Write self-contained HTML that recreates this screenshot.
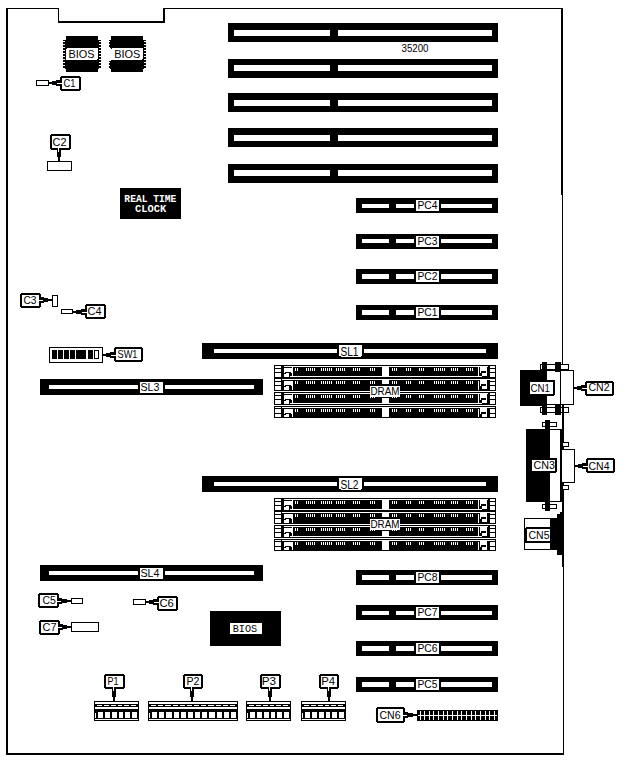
<!DOCTYPE html>
<html><head><meta charset="utf-8"><style>
html,body{margin:0;padding:0;background:#fff;}
svg{display:block;}
text{font-family:"Liberation Sans", sans-serif;}
</style></head><body>
<svg width="625" height="760" viewBox="0 0 625 760" shape-rendering="crispEdges">
<rect x="0" y="0" width="625" height="760" fill="#fff"/>
<rect x="6" y="8" width="2" height="747" fill="#000"/>
<rect x="6" y="8" width="53" height="1" fill="#000"/>
<rect x="58" y="8" width="1" height="14" fill="#000"/>
<rect x="58" y="21" width="107" height="2" fill="#000"/>
<rect x="163" y="8" width="2" height="15" fill="#000"/>
<rect x="163" y="8" width="400" height="1" fill="#000"/>
<rect x="561" y="8" width="2" height="187" fill="#000"/>
<rect x="562" y="195" width="1" height="175" fill="#000"/>
<rect x="562" y="405" width="2" height="162" fill="#000"/>
<rect x="563" y="567" width="1" height="188" fill="#000"/>
<rect x="6" y="753" width="558" height="2" fill="#000"/>
<rect x="228" y="23" width="270" height="19" fill="#000"/>
<rect x="234" y="30" width="96" height="6" fill="#fff"/>
<rect x="338" y="30" width="154" height="6" fill="#fff"/>
<rect x="228" y="59" width="270" height="19" fill="#000"/>
<rect x="234" y="65" width="96" height="6" fill="#fff"/>
<rect x="338" y="65" width="154" height="6" fill="#fff"/>
<rect x="228" y="93" width="270" height="19" fill="#000"/>
<rect x="234" y="100" width="96" height="6" fill="#fff"/>
<rect x="338" y="100" width="154" height="6" fill="#fff"/>
<rect x="228" y="128" width="270" height="19" fill="#000"/>
<rect x="234" y="135" width="96" height="6" fill="#fff"/>
<rect x="338" y="135" width="154" height="6" fill="#fff"/>
<rect x="228" y="164" width="270" height="19" fill="#000"/>
<rect x="234" y="170" width="96" height="6" fill="#fff"/>
<rect x="338" y="170" width="154" height="6" fill="#fff"/>
<text x="401.50" y="52.00" font-size="10.00" font-weight="normal" fill="#000" textLength="27.00" lengthAdjust="spacingAndGlyphs">35200</text>
<rect x="356" y="198" width="142" height="15" fill="#000"/>
<rect x="362" y="204" width="27" height="4" fill="#fff"/>
<rect x="396" y="204" width="18" height="4" fill="#fff"/>
<rect x="441" y="204" width="51" height="4" fill="#fff"/>
<rect x="416" y="200" width="23" height="11" fill="#fff"/>
<text x="417.50" y="209.00" font-size="11.43" font-weight="normal" fill="#000" textLength="20.00" lengthAdjust="spacingAndGlyphs">PC4</text>
<rect x="356" y="234" width="142" height="15" fill="#000"/>
<rect x="362" y="239" width="27" height="4" fill="#fff"/>
<rect x="396" y="239" width="18" height="4" fill="#fff"/>
<rect x="441" y="239" width="51" height="4" fill="#fff"/>
<rect x="416" y="236" width="23" height="11" fill="#fff"/>
<text x="417.50" y="245.00" font-size="11.43" font-weight="normal" fill="#000" textLength="20.00" lengthAdjust="spacingAndGlyphs">PC3</text>
<rect x="356" y="269" width="142" height="15" fill="#000"/>
<rect x="362" y="274" width="27" height="5" fill="#fff"/>
<rect x="396" y="274" width="18" height="5" fill="#fff"/>
<rect x="441" y="274" width="51" height="5" fill="#fff"/>
<rect x="416" y="271" width="23" height="11" fill="#fff"/>
<text x="417.50" y="280.00" font-size="11.43" font-weight="normal" fill="#000" textLength="20.00" lengthAdjust="spacingAndGlyphs">PC2</text>
<rect x="356" y="305" width="142" height="15" fill="#000"/>
<rect x="362" y="310" width="27" height="5" fill="#fff"/>
<rect x="396" y="310" width="18" height="5" fill="#fff"/>
<rect x="441" y="310" width="51" height="5" fill="#fff"/>
<rect x="416" y="307" width="23" height="11" fill="#fff"/>
<text x="417.50" y="316.00" font-size="11.43" font-weight="normal" fill="#000" textLength="20.00" lengthAdjust="spacingAndGlyphs">PC1</text>
<rect x="356" y="570" width="142" height="15" fill="#000"/>
<rect x="362" y="575" width="27" height="5" fill="#fff"/>
<rect x="396" y="575" width="18" height="5" fill="#fff"/>
<rect x="441" y="575" width="51" height="5" fill="#fff"/>
<rect x="416" y="572" width="23" height="11" fill="#fff"/>
<text x="417.50" y="581.00" font-size="11.43" font-weight="normal" fill="#000" textLength="20.00" lengthAdjust="spacingAndGlyphs">PC8</text>
<rect x="356" y="605" width="142" height="15" fill="#000"/>
<rect x="362" y="611" width="27" height="4" fill="#fff"/>
<rect x="396" y="611" width="18" height="4" fill="#fff"/>
<rect x="441" y="611" width="51" height="4" fill="#fff"/>
<rect x="416" y="607" width="23" height="11" fill="#fff"/>
<text x="417.50" y="616.00" font-size="11.43" font-weight="normal" fill="#000" textLength="20.00" lengthAdjust="spacingAndGlyphs">PC7</text>
<rect x="356" y="641" width="142" height="15" fill="#000"/>
<rect x="362" y="646" width="27" height="5" fill="#fff"/>
<rect x="396" y="646" width="18" height="5" fill="#fff"/>
<rect x="441" y="646" width="51" height="5" fill="#fff"/>
<rect x="416" y="643" width="23" height="11" fill="#fff"/>
<text x="417.50" y="652.00" font-size="11.43" font-weight="normal" fill="#000" textLength="20.00" lengthAdjust="spacingAndGlyphs">PC6</text>
<rect x="356" y="677" width="142" height="15" fill="#000"/>
<rect x="362" y="682" width="27" height="5" fill="#fff"/>
<rect x="396" y="682" width="18" height="5" fill="#fff"/>
<rect x="441" y="682" width="51" height="5" fill="#fff"/>
<rect x="416" y="679" width="23" height="11" fill="#fff"/>
<text x="417.50" y="688.00" font-size="11.43" font-weight="normal" fill="#000" textLength="20.00" lengthAdjust="spacingAndGlyphs">PC5</text>
<rect x="202" y="343" width="296" height="16" fill="#000"/>
<rect x="214" y="349" width="123" height="4" fill="#fff"/>
<rect x="364" y="349" width="122" height="4" fill="#fff"/>
<rect x="339" y="345" width="23" height="11.5" rx="1.5" fill="#fff"/>
<text x="340.50" y="355.65" font-size="11.90" font-weight="normal" fill="#000" textLength="18.00" lengthAdjust="spacingAndGlyphs">SL1</text>
<rect x="202" y="476" width="296" height="16" fill="#000"/>
<rect x="214" y="482" width="123" height="4" fill="#fff"/>
<rect x="364" y="482" width="122" height="4" fill="#fff"/>
<rect x="339" y="478" width="23" height="11.5" rx="1.5" fill="#fff"/>
<text x="340.50" y="488.65" font-size="11.90" font-weight="normal" fill="#000" textLength="18.00" lengthAdjust="spacingAndGlyphs">SL2</text>
<rect x="40" y="379" width="223" height="16" fill="#000"/>
<rect x="49" y="385" width="89" height="4" fill="#fff"/>
<rect x="165" y="385" width="89" height="4" fill="#fff"/>
<rect x="140" y="382" width="23" height="11" rx="1.5" fill="#fff"/>
<text x="140.50" y="391.00" font-size="11.43" font-weight="normal" fill="#000" textLength="19.00" lengthAdjust="spacingAndGlyphs">SL3</text>
<rect x="40" y="565" width="223" height="16" fill="#000"/>
<rect x="49" y="571" width="89" height="4" fill="#fff"/>
<rect x="165" y="571" width="89" height="4" fill="#fff"/>
<rect x="140" y="568" width="23" height="11" rx="1.5" fill="#fff"/>
<text x="140.50" y="577.00" font-size="11.43" font-weight="normal" fill="#000" textLength="19.00" lengthAdjust="spacingAndGlyphs">SL4</text>
<rect x="274" y="365" width="222" height="53" fill="#000"/>
<rect x="273" y="391" width="224" height="1" fill="#fff"/>
<rect x="273" y="405" width="224" height="1" fill="#fff"/>
<rect x="275" y="366" width="6" height="2" fill="#fff"/>
<rect x="490" y="366" width="5" height="2" fill="#fff"/>
<rect x="275" y="369" width="6" height="3" fill="#fff"/>
<rect x="490" y="369" width="5" height="3" fill="#fff"/>
<rect x="275" y="373" width="6" height="4" fill="#fff"/>
<rect x="490" y="373" width="5" height="4" fill="#fff"/>
<rect x="284" y="366" width="204" height="1" fill="#fff"/>
<rect x="290" y="376" width="192" height="1" fill="#fff"/>
<rect x="292" y="366" width="1" height="11" fill="#fff"/>
<rect x="478" y="366" width="1" height="11" fill="#fff"/>
<rect x="284" y="368" width="8" height="5" fill="#fff"/>
<rect x="285" y="372" width="6" height="1" fill="#000"/>
<rect x="284" y="373" width="5" height="4" fill="#fff"/>
<rect x="284" y="373" width="2" height="1" fill="#000"/>
<rect x="480" y="367" width="7" height="6" fill="#fff"/>
<rect x="481" y="371" width="5" height="2" fill="#000"/>
<rect x="482" y="373" width="5" height="3" fill="#fff"/>
<rect x="295" y="368" width="1" height="3" fill="#fff"/>
<rect x="297" y="368" width="1" height="3" fill="#fff"/>
<rect x="306" y="368" width="1" height="3" fill="#fff"/>
<rect x="308" y="368" width="1" height="3" fill="#fff"/>
<rect x="310" y="368" width="1" height="3" fill="#fff"/>
<rect x="312" y="368" width="1" height="3" fill="#fff"/>
<rect x="314" y="368" width="1" height="3" fill="#fff"/>
<rect x="321" y="368" width="1" height="3" fill="#fff"/>
<rect x="323" y="368" width="1" height="3" fill="#fff"/>
<rect x="325" y="368" width="1" height="3" fill="#fff"/>
<rect x="327" y="368" width="1" height="3" fill="#fff"/>
<rect x="329" y="368" width="1" height="3" fill="#fff"/>
<rect x="331" y="368" width="1" height="3" fill="#fff"/>
<rect x="336" y="368" width="1" height="3" fill="#fff"/>
<rect x="338" y="368" width="1" height="3" fill="#fff"/>
<rect x="340" y="368" width="1" height="3" fill="#fff"/>
<rect x="342" y="368" width="1" height="3" fill="#fff"/>
<rect x="344" y="368" width="1" height="3" fill="#fff"/>
<rect x="353" y="368" width="1" height="3" fill="#fff"/>
<rect x="355" y="368" width="1" height="3" fill="#fff"/>
<rect x="357" y="368" width="1" height="3" fill="#fff"/>
<rect x="359" y="368" width="1" height="3" fill="#fff"/>
<rect x="370" y="368" width="1" height="3" fill="#fff"/>
<rect x="372" y="368" width="1" height="3" fill="#fff"/>
<rect x="374" y="368" width="1" height="3" fill="#fff"/>
<rect x="392" y="368" width="1" height="3" fill="#fff"/>
<rect x="394" y="368" width="1" height="3" fill="#fff"/>
<rect x="396" y="368" width="1" height="3" fill="#fff"/>
<rect x="406" y="368" width="1" height="3" fill="#fff"/>
<rect x="408" y="368" width="1" height="3" fill="#fff"/>
<rect x="410" y="368" width="1" height="3" fill="#fff"/>
<rect x="419" y="368" width="1" height="3" fill="#fff"/>
<rect x="421" y="368" width="1" height="3" fill="#fff"/>
<rect x="423" y="368" width="1" height="3" fill="#fff"/>
<rect x="434" y="368" width="1" height="3" fill="#fff"/>
<rect x="436" y="368" width="1" height="3" fill="#fff"/>
<rect x="438" y="368" width="1" height="3" fill="#fff"/>
<rect x="440" y="368" width="1" height="3" fill="#fff"/>
<rect x="442" y="368" width="1" height="3" fill="#fff"/>
<rect x="444" y="368" width="1" height="3" fill="#fff"/>
<rect x="451" y="368" width="1" height="3" fill="#fff"/>
<rect x="453" y="368" width="1" height="3" fill="#fff"/>
<rect x="455" y="368" width="1" height="3" fill="#fff"/>
<rect x="457" y="368" width="1" height="3" fill="#fff"/>
<rect x="466" y="368" width="1" height="3" fill="#fff"/>
<rect x="468" y="368" width="1" height="3" fill="#fff"/>
<rect x="470" y="368" width="1" height="3" fill="#fff"/>
<rect x="472" y="368" width="1" height="3" fill="#fff"/>
<rect x="275" y="379" width="6" height="2" fill="#fff"/>
<rect x="490" y="379" width="5" height="2" fill="#fff"/>
<rect x="275" y="382" width="6" height="3" fill="#fff"/>
<rect x="490" y="382" width="5" height="3" fill="#fff"/>
<rect x="275" y="386" width="6" height="4" fill="#fff"/>
<rect x="490" y="386" width="5" height="4" fill="#fff"/>
<rect x="282" y="379" width="208" height="1" fill="#fff"/>
<rect x="292" y="381" width="1" height="9" fill="#fff"/>
<rect x="478" y="381" width="1" height="9" fill="#fff"/>
<rect x="284" y="381" width="8" height="5" fill="#fff"/>
<rect x="285" y="385" width="6" height="1" fill="#000"/>
<rect x="284" y="386" width="5" height="4" fill="#fff"/>
<rect x="284" y="386" width="2" height="1" fill="#000"/>
<rect x="480" y="380" width="7" height="6" fill="#fff"/>
<rect x="481" y="384" width="5" height="2" fill="#000"/>
<rect x="482" y="386" width="5" height="3" fill="#fff"/>
<rect x="295" y="381" width="1" height="3" fill="#fff"/>
<rect x="297" y="381" width="1" height="3" fill="#fff"/>
<rect x="306" y="381" width="1" height="3" fill="#fff"/>
<rect x="308" y="381" width="1" height="3" fill="#fff"/>
<rect x="310" y="381" width="1" height="3" fill="#fff"/>
<rect x="312" y="381" width="1" height="3" fill="#fff"/>
<rect x="314" y="381" width="1" height="3" fill="#fff"/>
<rect x="321" y="381" width="1" height="3" fill="#fff"/>
<rect x="323" y="381" width="1" height="3" fill="#fff"/>
<rect x="325" y="381" width="1" height="3" fill="#fff"/>
<rect x="327" y="381" width="1" height="3" fill="#fff"/>
<rect x="329" y="381" width="1" height="3" fill="#fff"/>
<rect x="331" y="381" width="1" height="3" fill="#fff"/>
<rect x="336" y="381" width="1" height="3" fill="#fff"/>
<rect x="338" y="381" width="1" height="3" fill="#fff"/>
<rect x="340" y="381" width="1" height="3" fill="#fff"/>
<rect x="342" y="381" width="1" height="3" fill="#fff"/>
<rect x="344" y="381" width="1" height="3" fill="#fff"/>
<rect x="353" y="381" width="1" height="3" fill="#fff"/>
<rect x="355" y="381" width="1" height="3" fill="#fff"/>
<rect x="357" y="381" width="1" height="3" fill="#fff"/>
<rect x="359" y="381" width="1" height="3" fill="#fff"/>
<rect x="370" y="381" width="1" height="3" fill="#fff"/>
<rect x="372" y="381" width="1" height="3" fill="#fff"/>
<rect x="374" y="381" width="1" height="3" fill="#fff"/>
<rect x="392" y="381" width="1" height="3" fill="#fff"/>
<rect x="394" y="381" width="1" height="3" fill="#fff"/>
<rect x="396" y="381" width="1" height="3" fill="#fff"/>
<rect x="406" y="381" width="1" height="3" fill="#fff"/>
<rect x="408" y="381" width="1" height="3" fill="#fff"/>
<rect x="410" y="381" width="1" height="3" fill="#fff"/>
<rect x="419" y="381" width="1" height="3" fill="#fff"/>
<rect x="421" y="381" width="1" height="3" fill="#fff"/>
<rect x="423" y="381" width="1" height="3" fill="#fff"/>
<rect x="434" y="381" width="1" height="3" fill="#fff"/>
<rect x="436" y="381" width="1" height="3" fill="#fff"/>
<rect x="438" y="381" width="1" height="3" fill="#fff"/>
<rect x="440" y="381" width="1" height="3" fill="#fff"/>
<rect x="442" y="381" width="1" height="3" fill="#fff"/>
<rect x="444" y="381" width="1" height="3" fill="#fff"/>
<rect x="451" y="381" width="1" height="3" fill="#fff"/>
<rect x="453" y="381" width="1" height="3" fill="#fff"/>
<rect x="455" y="381" width="1" height="3" fill="#fff"/>
<rect x="457" y="381" width="1" height="3" fill="#fff"/>
<rect x="466" y="381" width="1" height="3" fill="#fff"/>
<rect x="468" y="381" width="1" height="3" fill="#fff"/>
<rect x="470" y="381" width="1" height="3" fill="#fff"/>
<rect x="472" y="381" width="1" height="3" fill="#fff"/>
<rect x="275" y="393" width="6" height="2" fill="#fff"/>
<rect x="490" y="393" width="5" height="2" fill="#fff"/>
<rect x="275" y="396" width="6" height="3" fill="#fff"/>
<rect x="490" y="396" width="5" height="3" fill="#fff"/>
<rect x="275" y="400" width="6" height="4" fill="#fff"/>
<rect x="490" y="400" width="5" height="4" fill="#fff"/>
<rect x="284" y="393" width="204" height="1" fill="#fff"/>
<rect x="290" y="403" width="192" height="1" fill="#fff"/>
<rect x="292" y="393" width="1" height="11" fill="#fff"/>
<rect x="478" y="393" width="1" height="11" fill="#fff"/>
<rect x="284" y="395" width="8" height="5" fill="#fff"/>
<rect x="285" y="399" width="6" height="1" fill="#000"/>
<rect x="284" y="400" width="5" height="4" fill="#fff"/>
<rect x="284" y="400" width="2" height="1" fill="#000"/>
<rect x="480" y="394" width="7" height="6" fill="#fff"/>
<rect x="481" y="398" width="5" height="2" fill="#000"/>
<rect x="482" y="400" width="5" height="3" fill="#fff"/>
<rect x="295" y="395" width="1" height="3" fill="#fff"/>
<rect x="297" y="395" width="1" height="3" fill="#fff"/>
<rect x="306" y="395" width="1" height="3" fill="#fff"/>
<rect x="308" y="395" width="1" height="3" fill="#fff"/>
<rect x="310" y="395" width="1" height="3" fill="#fff"/>
<rect x="312" y="395" width="1" height="3" fill="#fff"/>
<rect x="314" y="395" width="1" height="3" fill="#fff"/>
<rect x="321" y="395" width="1" height="3" fill="#fff"/>
<rect x="323" y="395" width="1" height="3" fill="#fff"/>
<rect x="325" y="395" width="1" height="3" fill="#fff"/>
<rect x="327" y="395" width="1" height="3" fill="#fff"/>
<rect x="329" y="395" width="1" height="3" fill="#fff"/>
<rect x="331" y="395" width="1" height="3" fill="#fff"/>
<rect x="336" y="395" width="1" height="3" fill="#fff"/>
<rect x="338" y="395" width="1" height="3" fill="#fff"/>
<rect x="340" y="395" width="1" height="3" fill="#fff"/>
<rect x="342" y="395" width="1" height="3" fill="#fff"/>
<rect x="344" y="395" width="1" height="3" fill="#fff"/>
<rect x="353" y="395" width="1" height="3" fill="#fff"/>
<rect x="355" y="395" width="1" height="3" fill="#fff"/>
<rect x="357" y="395" width="1" height="3" fill="#fff"/>
<rect x="359" y="395" width="1" height="3" fill="#fff"/>
<rect x="370" y="395" width="1" height="3" fill="#fff"/>
<rect x="372" y="395" width="1" height="3" fill="#fff"/>
<rect x="374" y="395" width="1" height="3" fill="#fff"/>
<rect x="392" y="395" width="1" height="3" fill="#fff"/>
<rect x="394" y="395" width="1" height="3" fill="#fff"/>
<rect x="396" y="395" width="1" height="3" fill="#fff"/>
<rect x="406" y="395" width="1" height="3" fill="#fff"/>
<rect x="408" y="395" width="1" height="3" fill="#fff"/>
<rect x="410" y="395" width="1" height="3" fill="#fff"/>
<rect x="419" y="395" width="1" height="3" fill="#fff"/>
<rect x="421" y="395" width="1" height="3" fill="#fff"/>
<rect x="423" y="395" width="1" height="3" fill="#fff"/>
<rect x="434" y="395" width="1" height="3" fill="#fff"/>
<rect x="436" y="395" width="1" height="3" fill="#fff"/>
<rect x="438" y="395" width="1" height="3" fill="#fff"/>
<rect x="440" y="395" width="1" height="3" fill="#fff"/>
<rect x="442" y="395" width="1" height="3" fill="#fff"/>
<rect x="444" y="395" width="1" height="3" fill="#fff"/>
<rect x="451" y="395" width="1" height="3" fill="#fff"/>
<rect x="453" y="395" width="1" height="3" fill="#fff"/>
<rect x="455" y="395" width="1" height="3" fill="#fff"/>
<rect x="457" y="395" width="1" height="3" fill="#fff"/>
<rect x="466" y="395" width="1" height="3" fill="#fff"/>
<rect x="468" y="395" width="1" height="3" fill="#fff"/>
<rect x="470" y="395" width="1" height="3" fill="#fff"/>
<rect x="472" y="395" width="1" height="3" fill="#fff"/>
<rect x="275" y="407" width="6" height="1" fill="#fff"/>
<rect x="490" y="407" width="5" height="1" fill="#fff"/>
<rect x="275" y="409" width="6" height="4" fill="#fff"/>
<rect x="490" y="409" width="5" height="4" fill="#fff"/>
<rect x="275" y="414" width="6" height="3" fill="#fff"/>
<rect x="490" y="414" width="5" height="3" fill="#fff"/>
<rect x="282" y="407" width="208" height="1" fill="#fff"/>
<rect x="292" y="409" width="1" height="9" fill="#fff"/>
<rect x="478" y="409" width="1" height="9" fill="#fff"/>
<rect x="284" y="409" width="8" height="5" fill="#fff"/>
<rect x="285" y="413" width="6" height="1" fill="#000"/>
<rect x="284" y="414" width="5" height="4" fill="#fff"/>
<rect x="284" y="414" width="2" height="1" fill="#000"/>
<rect x="480" y="408" width="7" height="6" fill="#fff"/>
<rect x="481" y="412" width="5" height="2" fill="#000"/>
<rect x="482" y="414" width="5" height="3" fill="#fff"/>
<rect x="295" y="409" width="1" height="3" fill="#fff"/>
<rect x="297" y="409" width="1" height="3" fill="#fff"/>
<rect x="306" y="409" width="1" height="3" fill="#fff"/>
<rect x="308" y="409" width="1" height="3" fill="#fff"/>
<rect x="310" y="409" width="1" height="3" fill="#fff"/>
<rect x="312" y="409" width="1" height="3" fill="#fff"/>
<rect x="314" y="409" width="1" height="3" fill="#fff"/>
<rect x="321" y="409" width="1" height="3" fill="#fff"/>
<rect x="323" y="409" width="1" height="3" fill="#fff"/>
<rect x="325" y="409" width="1" height="3" fill="#fff"/>
<rect x="327" y="409" width="1" height="3" fill="#fff"/>
<rect x="329" y="409" width="1" height="3" fill="#fff"/>
<rect x="331" y="409" width="1" height="3" fill="#fff"/>
<rect x="336" y="409" width="1" height="3" fill="#fff"/>
<rect x="338" y="409" width="1" height="3" fill="#fff"/>
<rect x="340" y="409" width="1" height="3" fill="#fff"/>
<rect x="342" y="409" width="1" height="3" fill="#fff"/>
<rect x="344" y="409" width="1" height="3" fill="#fff"/>
<rect x="353" y="409" width="1" height="3" fill="#fff"/>
<rect x="355" y="409" width="1" height="3" fill="#fff"/>
<rect x="357" y="409" width="1" height="3" fill="#fff"/>
<rect x="359" y="409" width="1" height="3" fill="#fff"/>
<rect x="370" y="409" width="1" height="3" fill="#fff"/>
<rect x="372" y="409" width="1" height="3" fill="#fff"/>
<rect x="374" y="409" width="1" height="3" fill="#fff"/>
<rect x="392" y="409" width="1" height="3" fill="#fff"/>
<rect x="394" y="409" width="1" height="3" fill="#fff"/>
<rect x="396" y="409" width="1" height="3" fill="#fff"/>
<rect x="406" y="409" width="1" height="3" fill="#fff"/>
<rect x="408" y="409" width="1" height="3" fill="#fff"/>
<rect x="410" y="409" width="1" height="3" fill="#fff"/>
<rect x="419" y="409" width="1" height="3" fill="#fff"/>
<rect x="421" y="409" width="1" height="3" fill="#fff"/>
<rect x="423" y="409" width="1" height="3" fill="#fff"/>
<rect x="434" y="409" width="1" height="3" fill="#fff"/>
<rect x="436" y="409" width="1" height="3" fill="#fff"/>
<rect x="438" y="409" width="1" height="3" fill="#fff"/>
<rect x="440" y="409" width="1" height="3" fill="#fff"/>
<rect x="442" y="409" width="1" height="3" fill="#fff"/>
<rect x="444" y="409" width="1" height="3" fill="#fff"/>
<rect x="451" y="409" width="1" height="3" fill="#fff"/>
<rect x="453" y="409" width="1" height="3" fill="#fff"/>
<rect x="455" y="409" width="1" height="3" fill="#fff"/>
<rect x="457" y="409" width="1" height="3" fill="#fff"/>
<rect x="466" y="409" width="1" height="3" fill="#fff"/>
<rect x="468" y="409" width="1" height="3" fill="#fff"/>
<rect x="470" y="409" width="1" height="3" fill="#fff"/>
<rect x="472" y="409" width="1" height="3" fill="#fff"/>
<rect x="274" y="417" width="222" height="1" fill="#000"/>
<rect x="382" y="367" width="7" height="9" fill="#fff"/>
<rect x="382" y="380" width="7" height="4" fill="#fff"/>
<rect x="382" y="398" width="7" height="5" fill="#fff"/>
<rect x="382" y="407" width="7" height="10" fill="#fff"/>
<rect x="382" y="417" width="7" height="1" fill="#000"/>
<rect x="274" y="498" width="222" height="53" fill="#000"/>
<rect x="273" y="524" width="224" height="1" fill="#fff"/>
<rect x="273" y="538" width="224" height="1" fill="#fff"/>
<rect x="275" y="499" width="6" height="2" fill="#fff"/>
<rect x="490" y="499" width="5" height="2" fill="#fff"/>
<rect x="275" y="502" width="6" height="3" fill="#fff"/>
<rect x="490" y="502" width="5" height="3" fill="#fff"/>
<rect x="275" y="506" width="6" height="4" fill="#fff"/>
<rect x="490" y="506" width="5" height="4" fill="#fff"/>
<rect x="284" y="499" width="204" height="1" fill="#fff"/>
<rect x="290" y="509" width="192" height="1" fill="#fff"/>
<rect x="292" y="499" width="1" height="11" fill="#fff"/>
<rect x="478" y="499" width="1" height="11" fill="#fff"/>
<rect x="284" y="501" width="8" height="5" fill="#fff"/>
<rect x="285" y="505" width="6" height="1" fill="#000"/>
<rect x="284" y="506" width="5" height="4" fill="#fff"/>
<rect x="284" y="506" width="2" height="1" fill="#000"/>
<rect x="480" y="500" width="7" height="6" fill="#fff"/>
<rect x="481" y="504" width="5" height="2" fill="#000"/>
<rect x="482" y="506" width="5" height="3" fill="#fff"/>
<rect x="295" y="501" width="1" height="3" fill="#fff"/>
<rect x="297" y="501" width="1" height="3" fill="#fff"/>
<rect x="306" y="501" width="1" height="3" fill="#fff"/>
<rect x="308" y="501" width="1" height="3" fill="#fff"/>
<rect x="310" y="501" width="1" height="3" fill="#fff"/>
<rect x="312" y="501" width="1" height="3" fill="#fff"/>
<rect x="314" y="501" width="1" height="3" fill="#fff"/>
<rect x="321" y="501" width="1" height="3" fill="#fff"/>
<rect x="323" y="501" width="1" height="3" fill="#fff"/>
<rect x="325" y="501" width="1" height="3" fill="#fff"/>
<rect x="327" y="501" width="1" height="3" fill="#fff"/>
<rect x="329" y="501" width="1" height="3" fill="#fff"/>
<rect x="331" y="501" width="1" height="3" fill="#fff"/>
<rect x="336" y="501" width="1" height="3" fill="#fff"/>
<rect x="338" y="501" width="1" height="3" fill="#fff"/>
<rect x="340" y="501" width="1" height="3" fill="#fff"/>
<rect x="342" y="501" width="1" height="3" fill="#fff"/>
<rect x="344" y="501" width="1" height="3" fill="#fff"/>
<rect x="353" y="501" width="1" height="3" fill="#fff"/>
<rect x="355" y="501" width="1" height="3" fill="#fff"/>
<rect x="357" y="501" width="1" height="3" fill="#fff"/>
<rect x="359" y="501" width="1" height="3" fill="#fff"/>
<rect x="370" y="501" width="1" height="3" fill="#fff"/>
<rect x="372" y="501" width="1" height="3" fill="#fff"/>
<rect x="374" y="501" width="1" height="3" fill="#fff"/>
<rect x="392" y="501" width="1" height="3" fill="#fff"/>
<rect x="394" y="501" width="1" height="3" fill="#fff"/>
<rect x="396" y="501" width="1" height="3" fill="#fff"/>
<rect x="406" y="501" width="1" height="3" fill="#fff"/>
<rect x="408" y="501" width="1" height="3" fill="#fff"/>
<rect x="410" y="501" width="1" height="3" fill="#fff"/>
<rect x="419" y="501" width="1" height="3" fill="#fff"/>
<rect x="421" y="501" width="1" height="3" fill="#fff"/>
<rect x="423" y="501" width="1" height="3" fill="#fff"/>
<rect x="434" y="501" width="1" height="3" fill="#fff"/>
<rect x="436" y="501" width="1" height="3" fill="#fff"/>
<rect x="438" y="501" width="1" height="3" fill="#fff"/>
<rect x="440" y="501" width="1" height="3" fill="#fff"/>
<rect x="442" y="501" width="1" height="3" fill="#fff"/>
<rect x="444" y="501" width="1" height="3" fill="#fff"/>
<rect x="451" y="501" width="1" height="3" fill="#fff"/>
<rect x="453" y="501" width="1" height="3" fill="#fff"/>
<rect x="455" y="501" width="1" height="3" fill="#fff"/>
<rect x="457" y="501" width="1" height="3" fill="#fff"/>
<rect x="466" y="501" width="1" height="3" fill="#fff"/>
<rect x="468" y="501" width="1" height="3" fill="#fff"/>
<rect x="470" y="501" width="1" height="3" fill="#fff"/>
<rect x="472" y="501" width="1" height="3" fill="#fff"/>
<rect x="275" y="512" width="6" height="2" fill="#fff"/>
<rect x="490" y="512" width="5" height="2" fill="#fff"/>
<rect x="275" y="515" width="6" height="3" fill="#fff"/>
<rect x="490" y="515" width="5" height="3" fill="#fff"/>
<rect x="275" y="519" width="6" height="4" fill="#fff"/>
<rect x="490" y="519" width="5" height="4" fill="#fff"/>
<rect x="282" y="512" width="208" height="1" fill="#fff"/>
<rect x="292" y="514" width="1" height="9" fill="#fff"/>
<rect x="478" y="514" width="1" height="9" fill="#fff"/>
<rect x="284" y="514" width="8" height="5" fill="#fff"/>
<rect x="285" y="518" width="6" height="1" fill="#000"/>
<rect x="284" y="519" width="5" height="4" fill="#fff"/>
<rect x="284" y="519" width="2" height="1" fill="#000"/>
<rect x="480" y="513" width="7" height="6" fill="#fff"/>
<rect x="481" y="517" width="5" height="2" fill="#000"/>
<rect x="482" y="519" width="5" height="3" fill="#fff"/>
<rect x="295" y="514" width="1" height="3" fill="#fff"/>
<rect x="297" y="514" width="1" height="3" fill="#fff"/>
<rect x="306" y="514" width="1" height="3" fill="#fff"/>
<rect x="308" y="514" width="1" height="3" fill="#fff"/>
<rect x="310" y="514" width="1" height="3" fill="#fff"/>
<rect x="312" y="514" width="1" height="3" fill="#fff"/>
<rect x="314" y="514" width="1" height="3" fill="#fff"/>
<rect x="321" y="514" width="1" height="3" fill="#fff"/>
<rect x="323" y="514" width="1" height="3" fill="#fff"/>
<rect x="325" y="514" width="1" height="3" fill="#fff"/>
<rect x="327" y="514" width="1" height="3" fill="#fff"/>
<rect x="329" y="514" width="1" height="3" fill="#fff"/>
<rect x="331" y="514" width="1" height="3" fill="#fff"/>
<rect x="336" y="514" width="1" height="3" fill="#fff"/>
<rect x="338" y="514" width="1" height="3" fill="#fff"/>
<rect x="340" y="514" width="1" height="3" fill="#fff"/>
<rect x="342" y="514" width="1" height="3" fill="#fff"/>
<rect x="344" y="514" width="1" height="3" fill="#fff"/>
<rect x="353" y="514" width="1" height="3" fill="#fff"/>
<rect x="355" y="514" width="1" height="3" fill="#fff"/>
<rect x="357" y="514" width="1" height="3" fill="#fff"/>
<rect x="359" y="514" width="1" height="3" fill="#fff"/>
<rect x="370" y="514" width="1" height="3" fill="#fff"/>
<rect x="372" y="514" width="1" height="3" fill="#fff"/>
<rect x="374" y="514" width="1" height="3" fill="#fff"/>
<rect x="392" y="514" width="1" height="3" fill="#fff"/>
<rect x="394" y="514" width="1" height="3" fill="#fff"/>
<rect x="396" y="514" width="1" height="3" fill="#fff"/>
<rect x="406" y="514" width="1" height="3" fill="#fff"/>
<rect x="408" y="514" width="1" height="3" fill="#fff"/>
<rect x="410" y="514" width="1" height="3" fill="#fff"/>
<rect x="419" y="514" width="1" height="3" fill="#fff"/>
<rect x="421" y="514" width="1" height="3" fill="#fff"/>
<rect x="423" y="514" width="1" height="3" fill="#fff"/>
<rect x="434" y="514" width="1" height="3" fill="#fff"/>
<rect x="436" y="514" width="1" height="3" fill="#fff"/>
<rect x="438" y="514" width="1" height="3" fill="#fff"/>
<rect x="440" y="514" width="1" height="3" fill="#fff"/>
<rect x="442" y="514" width="1" height="3" fill="#fff"/>
<rect x="444" y="514" width="1" height="3" fill="#fff"/>
<rect x="451" y="514" width="1" height="3" fill="#fff"/>
<rect x="453" y="514" width="1" height="3" fill="#fff"/>
<rect x="455" y="514" width="1" height="3" fill="#fff"/>
<rect x="457" y="514" width="1" height="3" fill="#fff"/>
<rect x="466" y="514" width="1" height="3" fill="#fff"/>
<rect x="468" y="514" width="1" height="3" fill="#fff"/>
<rect x="470" y="514" width="1" height="3" fill="#fff"/>
<rect x="472" y="514" width="1" height="3" fill="#fff"/>
<rect x="275" y="526" width="6" height="2" fill="#fff"/>
<rect x="490" y="526" width="5" height="2" fill="#fff"/>
<rect x="275" y="529" width="6" height="3" fill="#fff"/>
<rect x="490" y="529" width="5" height="3" fill="#fff"/>
<rect x="275" y="533" width="6" height="4" fill="#fff"/>
<rect x="490" y="533" width="5" height="4" fill="#fff"/>
<rect x="284" y="526" width="204" height="1" fill="#fff"/>
<rect x="290" y="536" width="192" height="1" fill="#fff"/>
<rect x="292" y="526" width="1" height="11" fill="#fff"/>
<rect x="478" y="526" width="1" height="11" fill="#fff"/>
<rect x="284" y="528" width="8" height="5" fill="#fff"/>
<rect x="285" y="532" width="6" height="1" fill="#000"/>
<rect x="284" y="533" width="5" height="4" fill="#fff"/>
<rect x="284" y="533" width="2" height="1" fill="#000"/>
<rect x="480" y="527" width="7" height="6" fill="#fff"/>
<rect x="481" y="531" width="5" height="2" fill="#000"/>
<rect x="482" y="533" width="5" height="3" fill="#fff"/>
<rect x="295" y="528" width="1" height="3" fill="#fff"/>
<rect x="297" y="528" width="1" height="3" fill="#fff"/>
<rect x="306" y="528" width="1" height="3" fill="#fff"/>
<rect x="308" y="528" width="1" height="3" fill="#fff"/>
<rect x="310" y="528" width="1" height="3" fill="#fff"/>
<rect x="312" y="528" width="1" height="3" fill="#fff"/>
<rect x="314" y="528" width="1" height="3" fill="#fff"/>
<rect x="321" y="528" width="1" height="3" fill="#fff"/>
<rect x="323" y="528" width="1" height="3" fill="#fff"/>
<rect x="325" y="528" width="1" height="3" fill="#fff"/>
<rect x="327" y="528" width="1" height="3" fill="#fff"/>
<rect x="329" y="528" width="1" height="3" fill="#fff"/>
<rect x="331" y="528" width="1" height="3" fill="#fff"/>
<rect x="336" y="528" width="1" height="3" fill="#fff"/>
<rect x="338" y="528" width="1" height="3" fill="#fff"/>
<rect x="340" y="528" width="1" height="3" fill="#fff"/>
<rect x="342" y="528" width="1" height="3" fill="#fff"/>
<rect x="344" y="528" width="1" height="3" fill="#fff"/>
<rect x="353" y="528" width="1" height="3" fill="#fff"/>
<rect x="355" y="528" width="1" height="3" fill="#fff"/>
<rect x="357" y="528" width="1" height="3" fill="#fff"/>
<rect x="359" y="528" width="1" height="3" fill="#fff"/>
<rect x="370" y="528" width="1" height="3" fill="#fff"/>
<rect x="372" y="528" width="1" height="3" fill="#fff"/>
<rect x="374" y="528" width="1" height="3" fill="#fff"/>
<rect x="392" y="528" width="1" height="3" fill="#fff"/>
<rect x="394" y="528" width="1" height="3" fill="#fff"/>
<rect x="396" y="528" width="1" height="3" fill="#fff"/>
<rect x="406" y="528" width="1" height="3" fill="#fff"/>
<rect x="408" y="528" width="1" height="3" fill="#fff"/>
<rect x="410" y="528" width="1" height="3" fill="#fff"/>
<rect x="419" y="528" width="1" height="3" fill="#fff"/>
<rect x="421" y="528" width="1" height="3" fill="#fff"/>
<rect x="423" y="528" width="1" height="3" fill="#fff"/>
<rect x="434" y="528" width="1" height="3" fill="#fff"/>
<rect x="436" y="528" width="1" height="3" fill="#fff"/>
<rect x="438" y="528" width="1" height="3" fill="#fff"/>
<rect x="440" y="528" width="1" height="3" fill="#fff"/>
<rect x="442" y="528" width="1" height="3" fill="#fff"/>
<rect x="444" y="528" width="1" height="3" fill="#fff"/>
<rect x="451" y="528" width="1" height="3" fill="#fff"/>
<rect x="453" y="528" width="1" height="3" fill="#fff"/>
<rect x="455" y="528" width="1" height="3" fill="#fff"/>
<rect x="457" y="528" width="1" height="3" fill="#fff"/>
<rect x="466" y="528" width="1" height="3" fill="#fff"/>
<rect x="468" y="528" width="1" height="3" fill="#fff"/>
<rect x="470" y="528" width="1" height="3" fill="#fff"/>
<rect x="472" y="528" width="1" height="3" fill="#fff"/>
<rect x="275" y="540" width="6" height="1" fill="#fff"/>
<rect x="490" y="540" width="5" height="1" fill="#fff"/>
<rect x="275" y="542" width="6" height="4" fill="#fff"/>
<rect x="490" y="542" width="5" height="4" fill="#fff"/>
<rect x="275" y="547" width="6" height="3" fill="#fff"/>
<rect x="490" y="547" width="5" height="3" fill="#fff"/>
<rect x="282" y="540" width="208" height="1" fill="#fff"/>
<rect x="292" y="542" width="1" height="9" fill="#fff"/>
<rect x="478" y="542" width="1" height="9" fill="#fff"/>
<rect x="284" y="542" width="8" height="5" fill="#fff"/>
<rect x="285" y="546" width="6" height="1" fill="#000"/>
<rect x="284" y="547" width="5" height="4" fill="#fff"/>
<rect x="284" y="547" width="2" height="1" fill="#000"/>
<rect x="480" y="541" width="7" height="6" fill="#fff"/>
<rect x="481" y="545" width="5" height="2" fill="#000"/>
<rect x="482" y="547" width="5" height="3" fill="#fff"/>
<rect x="295" y="542" width="1" height="3" fill="#fff"/>
<rect x="297" y="542" width="1" height="3" fill="#fff"/>
<rect x="306" y="542" width="1" height="3" fill="#fff"/>
<rect x="308" y="542" width="1" height="3" fill="#fff"/>
<rect x="310" y="542" width="1" height="3" fill="#fff"/>
<rect x="312" y="542" width="1" height="3" fill="#fff"/>
<rect x="314" y="542" width="1" height="3" fill="#fff"/>
<rect x="321" y="542" width="1" height="3" fill="#fff"/>
<rect x="323" y="542" width="1" height="3" fill="#fff"/>
<rect x="325" y="542" width="1" height="3" fill="#fff"/>
<rect x="327" y="542" width="1" height="3" fill="#fff"/>
<rect x="329" y="542" width="1" height="3" fill="#fff"/>
<rect x="331" y="542" width="1" height="3" fill="#fff"/>
<rect x="336" y="542" width="1" height="3" fill="#fff"/>
<rect x="338" y="542" width="1" height="3" fill="#fff"/>
<rect x="340" y="542" width="1" height="3" fill="#fff"/>
<rect x="342" y="542" width="1" height="3" fill="#fff"/>
<rect x="344" y="542" width="1" height="3" fill="#fff"/>
<rect x="353" y="542" width="1" height="3" fill="#fff"/>
<rect x="355" y="542" width="1" height="3" fill="#fff"/>
<rect x="357" y="542" width="1" height="3" fill="#fff"/>
<rect x="359" y="542" width="1" height="3" fill="#fff"/>
<rect x="370" y="542" width="1" height="3" fill="#fff"/>
<rect x="372" y="542" width="1" height="3" fill="#fff"/>
<rect x="374" y="542" width="1" height="3" fill="#fff"/>
<rect x="392" y="542" width="1" height="3" fill="#fff"/>
<rect x="394" y="542" width="1" height="3" fill="#fff"/>
<rect x="396" y="542" width="1" height="3" fill="#fff"/>
<rect x="406" y="542" width="1" height="3" fill="#fff"/>
<rect x="408" y="542" width="1" height="3" fill="#fff"/>
<rect x="410" y="542" width="1" height="3" fill="#fff"/>
<rect x="419" y="542" width="1" height="3" fill="#fff"/>
<rect x="421" y="542" width="1" height="3" fill="#fff"/>
<rect x="423" y="542" width="1" height="3" fill="#fff"/>
<rect x="434" y="542" width="1" height="3" fill="#fff"/>
<rect x="436" y="542" width="1" height="3" fill="#fff"/>
<rect x="438" y="542" width="1" height="3" fill="#fff"/>
<rect x="440" y="542" width="1" height="3" fill="#fff"/>
<rect x="442" y="542" width="1" height="3" fill="#fff"/>
<rect x="444" y="542" width="1" height="3" fill="#fff"/>
<rect x="451" y="542" width="1" height="3" fill="#fff"/>
<rect x="453" y="542" width="1" height="3" fill="#fff"/>
<rect x="455" y="542" width="1" height="3" fill="#fff"/>
<rect x="457" y="542" width="1" height="3" fill="#fff"/>
<rect x="466" y="542" width="1" height="3" fill="#fff"/>
<rect x="468" y="542" width="1" height="3" fill="#fff"/>
<rect x="470" y="542" width="1" height="3" fill="#fff"/>
<rect x="472" y="542" width="1" height="3" fill="#fff"/>
<rect x="274" y="550" width="222" height="1" fill="#000"/>
<rect x="382" y="500" width="7" height="9" fill="#fff"/>
<rect x="382" y="513" width="7" height="4" fill="#fff"/>
<rect x="382" y="531" width="7" height="5" fill="#fff"/>
<rect x="382" y="540" width="7" height="10" fill="#fff"/>
<rect x="382" y="550" width="7" height="1" fill="#000"/>
<rect x="370" y="386" width="30" height="11" fill="#fff"/>
<text x="370.50" y="395.00" font-size="11.43" font-weight="normal" fill="#000" textLength="29.00" lengthAdjust="spacingAndGlyphs">DRAM</text>
<rect x="370" y="519" width="30" height="11" fill="#fff"/>
<text x="370.50" y="528.00" font-size="11.43" font-weight="normal" fill="#000" textLength="29.00" lengthAdjust="spacingAndGlyphs">DRAM</text>
<rect x="66" y="36" width="32" height="36" fill="#000"/>
<rect x="63" y="40" width="3" height="29" fill="#000"/>
<rect x="98" y="40" width="3" height="29" fill="#000"/>
<rect x="63" y="41" width="2" height="1" fill="#fff"/>
<rect x="99" y="41" width="2" height="1" fill="#fff"/>
<rect x="63" y="44" width="2" height="1" fill="#fff"/>
<rect x="99" y="44" width="2" height="1" fill="#fff"/>
<rect x="63" y="47" width="2" height="1" fill="#fff"/>
<rect x="99" y="47" width="2" height="1" fill="#fff"/>
<rect x="63" y="50" width="2" height="1" fill="#fff"/>
<rect x="99" y="50" width="2" height="1" fill="#fff"/>
<rect x="63" y="53" width="2" height="1" fill="#fff"/>
<rect x="99" y="53" width="2" height="1" fill="#fff"/>
<rect x="63" y="56" width="2" height="1" fill="#fff"/>
<rect x="99" y="56" width="2" height="1" fill="#fff"/>
<rect x="63" y="59" width="2" height="1" fill="#fff"/>
<rect x="99" y="59" width="2" height="1" fill="#fff"/>
<rect x="63" y="62" width="2" height="1" fill="#fff"/>
<rect x="99" y="62" width="2" height="1" fill="#fff"/>
<rect x="63" y="65" width="2" height="1" fill="#fff"/>
<rect x="99" y="65" width="2" height="1" fill="#fff"/>
<rect x="63" y="68" width="2" height="1" fill="#fff"/>
<rect x="99" y="68" width="2" height="1" fill="#fff"/>
<rect x="66" y="48" width="32" height="12" rx="2" fill="#fff"/>
<text x="68.50" y="58.00" font-size="11.43" font-weight="normal" fill="#000" textLength="26.00" lengthAdjust="spacingAndGlyphs">BIOS</text>
<rect x="111" y="36" width="32" height="36" fill="#000"/>
<rect x="109" y="40" width="2" height="29" fill="#000"/>
<rect x="143" y="40" width="3" height="29" fill="#000"/>
<rect x="109" y="41" width="1" height="1" fill="#fff"/>
<rect x="144" y="41" width="2" height="1" fill="#fff"/>
<rect x="109" y="44" width="1" height="1" fill="#fff"/>
<rect x="144" y="44" width="2" height="1" fill="#fff"/>
<rect x="109" y="47" width="1" height="1" fill="#fff"/>
<rect x="144" y="47" width="2" height="1" fill="#fff"/>
<rect x="109" y="50" width="1" height="1" fill="#fff"/>
<rect x="144" y="50" width="2" height="1" fill="#fff"/>
<rect x="109" y="53" width="1" height="1" fill="#fff"/>
<rect x="144" y="53" width="2" height="1" fill="#fff"/>
<rect x="109" y="56" width="1" height="1" fill="#fff"/>
<rect x="144" y="56" width="2" height="1" fill="#fff"/>
<rect x="109" y="59" width="1" height="1" fill="#fff"/>
<rect x="144" y="59" width="2" height="1" fill="#fff"/>
<rect x="109" y="62" width="1" height="1" fill="#fff"/>
<rect x="144" y="62" width="2" height="1" fill="#fff"/>
<rect x="109" y="65" width="1" height="1" fill="#fff"/>
<rect x="144" y="65" width="2" height="1" fill="#fff"/>
<rect x="109" y="68" width="1" height="1" fill="#fff"/>
<rect x="144" y="68" width="2" height="1" fill="#fff"/>
<rect x="109" y="48" width="2" height="13" fill="#fff"/>
<rect x="111" y="48" width="32" height="12" rx="2" fill="#fff"/>
<text x="114.15" y="58.00" font-size="11.43" font-weight="normal" fill="#000" textLength="26.10" lengthAdjust="spacingAndGlyphs">BIOS</text>
<rect x="120" y="188" width="61" height="31" fill="#000"/>
<text x="124.36" y="202.00" font-size="11.60" font-weight="bold" fill="#fff" textLength="52.02" lengthAdjust="spacingAndGlyphs" style="font-family:Liberation Mono">REAL TIME</text>
<text x="135.01" y="212.32" font-size="11.60" font-weight="bold" fill="#fff" textLength="31.28" lengthAdjust="spacingAndGlyphs" style="font-family:Liberation Mono">CLOCK</text>
<rect x="210" y="611" width="71" height="35" fill="#000"/>
<rect x="230" y="623" width="32" height="11" fill="#fff"/>
<text x="232.69" y="632.26" font-size="11.20" font-weight="normal" fill="#000" textLength="24.52" lengthAdjust="spacingAndGlyphs" style="font-family:Liberation Mono">BIOS</text>
<rect x="36" y="80" width="13" height="6" fill="#000"/>
<rect x="37" y="81" width="11" height="4" fill="#fff"/>
<rect x="49" y="82" width="3" height="2" fill="#000"/>
<rect x="52" y="81" width="4" height="4" fill="#000"/>
<rect x="56" y="80" width="5" height="6" fill="#000"/>
<rect x="61" y="77" width="19" height="13" rx="1.5" ry="1.5" fill="#fff" stroke="#000" stroke-width="2"/>
<text x="63.50" y="87.00" font-size="11.43" font-weight="normal" fill="#000" textLength="12.00" lengthAdjust="spacingAndGlyphs">C1</text>
<rect x="51" y="135" width="19" height="14" rx="1.5" ry="1.5" fill="#fff" stroke="#000" stroke-width="2"/>
<text x="52.50" y="146.00" font-size="11.43" font-weight="normal" fill="#000" textLength="14.00" lengthAdjust="spacingAndGlyphs">C2</text>
<rect x="57" y="149" width="4" height="4" fill="#000"/>
<rect x="57" y="153" width="4" height="4" fill="#000"/>
<rect x="58" y="157" width="2" height="4" fill="#000"/>
<rect x="47" y="161" width="25" height="10" fill="#000"/>
<rect x="48" y="162" width="23" height="8" fill="#fff"/>
<rect x="21" y="294" width="19" height="13" rx="1.5" ry="1.5" fill="#fff" stroke="#000" stroke-width="2"/>
<text x="23.50" y="304.00" font-size="11.43" font-weight="normal" fill="#000" textLength="13.00" lengthAdjust="spacingAndGlyphs">C3</text>
<rect x="48" y="299" width="4" height="2" fill="#000"/>
<rect x="44" y="298" width="4" height="4" fill="#000"/>
<rect x="40" y="297" width="4" height="6" fill="#000"/>
<rect x="52" y="295" width="6" height="12" fill="#000"/>
<rect x="53" y="296" width="4" height="10" fill="#fff"/>
<rect x="61" y="309" width="12" height="5" fill="#000"/>
<rect x="62" y="310" width="10" height="3" fill="#fff"/>
<rect x="73" y="311" width="3" height="2" fill="#000"/>
<rect x="76" y="310" width="5" height="4" fill="#000"/>
<rect x="81" y="309" width="5" height="6" fill="#000"/>
<rect x="86" y="305" width="19" height="13" rx="1.5" ry="1.5" fill="#fff" stroke="#000" stroke-width="2"/>
<text x="87.50" y="315.00" font-size="11.43" font-weight="normal" fill="#000" textLength="14.00" lengthAdjust="spacingAndGlyphs">C4</text>
<rect x="49" y="347" width="54" height="16" fill="#000"/>
<rect x="50" y="348" width="52" height="14" fill="#fff"/>
<rect x="52" y="350" width="5" height="9" fill="#000"/>
<rect x="58" y="350" width="5" height="9" fill="#000"/>
<rect x="64" y="350" width="5" height="9" fill="#000"/>
<rect x="70" y="350" width="5" height="9" fill="#000"/>
<rect x="76" y="350" width="10" height="9" fill="#000"/>
<rect x="88" y="350" width="5" height="9" fill="#000"/>
<rect x="94" y="350" width="5" height="9" fill="#000"/>
<rect x="95" y="351" width="3" height="7" fill="#fff"/>
<rect x="103" y="354" width="3" height="2" fill="#000"/>
<rect x="106" y="353" width="4" height="4" fill="#000"/>
<rect x="110" y="352" width="5" height="6" fill="#000"/>
<rect x="115" y="348" width="27" height="13" rx="1.5" ry="1.5" fill="#fff" stroke="#000" stroke-width="2"/>
<text x="117.50" y="358.00" font-size="11.43" font-weight="normal" fill="#000" textLength="20.00" lengthAdjust="spacingAndGlyphs">SW1</text>
<rect x="39" y="594" width="19" height="13" rx="1.5" ry="1.5" fill="#fff" stroke="#000" stroke-width="2"/>
<text x="42.50" y="604.35" font-size="10.14" font-weight="normal" fill="#000" textLength="13.40" lengthAdjust="spacingAndGlyphs">C5</text>
<rect x="67" y="600" width="4" height="2" fill="#000"/>
<rect x="62" y="599" width="5" height="4" fill="#000"/>
<rect x="58" y="598" width="4" height="6" fill="#000"/>
<rect x="71" y="598" width="12" height="6" fill="#000"/>
<rect x="72" y="599" width="10" height="4" fill="#fff"/>
<rect x="133" y="599" width="13" height="6" fill="#000"/>
<rect x="134" y="600" width="11" height="4" fill="#fff"/>
<rect x="146" y="601" width="3" height="2" fill="#000"/>
<rect x="149" y="600" width="4" height="4" fill="#000"/>
<rect x="153" y="599" width="5" height="6" fill="#000"/>
<rect x="158" y="597" width="19" height="13" rx="1.5" ry="1.5" fill="#fff" stroke="#000" stroke-width="2"/>
<text x="159.50" y="607.35" font-size="10.14" font-weight="normal" fill="#000" textLength="14.30" lengthAdjust="spacingAndGlyphs">C6</text>
<rect x="40" y="621" width="19" height="13" rx="1.5" ry="1.5" fill="#fff" stroke="#000" stroke-width="2"/>
<text x="42.50" y="631.00" font-size="11.43" font-weight="normal" fill="#000" textLength="14.00" lengthAdjust="spacingAndGlyphs">C7</text>
<rect x="67" y="626" width="4" height="2" fill="#000"/>
<rect x="63" y="625" width="4" height="4" fill="#000"/>
<rect x="59" y="624" width="4" height="6" fill="#000"/>
<rect x="71" y="622" width="28" height="10" fill="#000"/>
<rect x="72" y="623" width="26" height="8" fill="#fff"/>
<rect x="94" y="701" width="45" height="20" fill="#000"/>
<rect x="95" y="702" width="43" height="18" fill="#fff"/>
<rect x="95" y="704" width="43" height="3" fill="#000"/>
<rect x="97.00" y="705" width="4.83" height="1" fill="#fff"/>
<rect x="103.83" y="705" width="4.83" height="1" fill="#fff"/>
<rect x="110.67" y="705" width="4.83" height="1" fill="#fff"/>
<rect x="117.50" y="705" width="4.83" height="1" fill="#fff"/>
<rect x="124.33" y="705" width="4.83" height="1" fill="#fff"/>
<rect x="131.17" y="705" width="4.83" height="1" fill="#fff"/>
<rect x="95" y="709" width="43" height="3" fill="#000"/>
<rect x="95" y="712" width="2" height="7" fill="#000"/>
<rect x="95" y="713" width="1" height="5" fill="#fff"/>
<rect x="96.00" y="712" width="2" height="7" fill="#000"/>
<rect x="102.83" y="712" width="2" height="7" fill="#000"/>
<rect x="109.67" y="712" width="2" height="7" fill="#000"/>
<rect x="116.50" y="712" width="2" height="7" fill="#000"/>
<rect x="123.33" y="712" width="2" height="7" fill="#000"/>
<rect x="130.17" y="712" width="2" height="7" fill="#000"/>
<rect x="137.00" y="712" width="2" height="7" fill="#000"/>
<rect x="96" y="718" width="41" height="1" fill="#000"/>
<rect x="148" y="701" width="90" height="20" fill="#000"/>
<rect x="149" y="702" width="88" height="18" fill="#fff"/>
<rect x="149" y="704" width="88" height="3" fill="#000"/>
<rect x="151.00" y="705" width="5.17" height="1" fill="#fff"/>
<rect x="158.17" y="705" width="5.17" height="1" fill="#fff"/>
<rect x="165.33" y="705" width="5.17" height="1" fill="#fff"/>
<rect x="172.50" y="705" width="5.17" height="1" fill="#fff"/>
<rect x="179.67" y="705" width="5.17" height="1" fill="#fff"/>
<rect x="186.83" y="705" width="5.17" height="1" fill="#fff"/>
<rect x="194.00" y="705" width="5.17" height="1" fill="#fff"/>
<rect x="201.17" y="705" width="5.17" height="1" fill="#fff"/>
<rect x="208.33" y="705" width="5.17" height="1" fill="#fff"/>
<rect x="215.50" y="705" width="5.17" height="1" fill="#fff"/>
<rect x="222.67" y="705" width="5.17" height="1" fill="#fff"/>
<rect x="229.83" y="705" width="5.17" height="1" fill="#fff"/>
<rect x="149" y="709" width="88" height="3" fill="#000"/>
<rect x="149" y="712" width="2" height="7" fill="#000"/>
<rect x="149" y="713" width="1" height="5" fill="#fff"/>
<rect x="150.00" y="712" width="2" height="7" fill="#000"/>
<rect x="157.17" y="712" width="2" height="7" fill="#000"/>
<rect x="164.33" y="712" width="2" height="7" fill="#000"/>
<rect x="171.50" y="712" width="2" height="7" fill="#000"/>
<rect x="178.67" y="712" width="2" height="7" fill="#000"/>
<rect x="185.83" y="712" width="2" height="7" fill="#000"/>
<rect x="193.00" y="712" width="2" height="7" fill="#000"/>
<rect x="200.17" y="712" width="2" height="7" fill="#000"/>
<rect x="207.33" y="712" width="2" height="7" fill="#000"/>
<rect x="214.50" y="712" width="2" height="7" fill="#000"/>
<rect x="221.67" y="712" width="2" height="7" fill="#000"/>
<rect x="228.83" y="712" width="2" height="7" fill="#000"/>
<rect x="236.00" y="712" width="2" height="7" fill="#000"/>
<rect x="150" y="718" width="86" height="1" fill="#000"/>
<rect x="246" y="701" width="45" height="20" fill="#000"/>
<rect x="247" y="702" width="43" height="18" fill="#fff"/>
<rect x="247" y="704" width="43" height="3" fill="#000"/>
<rect x="249.00" y="705" width="4.83" height="1" fill="#fff"/>
<rect x="255.83" y="705" width="4.83" height="1" fill="#fff"/>
<rect x="262.67" y="705" width="4.83" height="1" fill="#fff"/>
<rect x="269.50" y="705" width="4.83" height="1" fill="#fff"/>
<rect x="276.33" y="705" width="4.83" height="1" fill="#fff"/>
<rect x="283.17" y="705" width="4.83" height="1" fill="#fff"/>
<rect x="247" y="709" width="43" height="3" fill="#000"/>
<rect x="247" y="712" width="2" height="7" fill="#000"/>
<rect x="247" y="713" width="1" height="5" fill="#fff"/>
<rect x="248.00" y="712" width="2" height="7" fill="#000"/>
<rect x="254.83" y="712" width="2" height="7" fill="#000"/>
<rect x="261.67" y="712" width="2" height="7" fill="#000"/>
<rect x="268.50" y="712" width="2" height="7" fill="#000"/>
<rect x="275.33" y="712" width="2" height="7" fill="#000"/>
<rect x="282.17" y="712" width="2" height="7" fill="#000"/>
<rect x="289.00" y="712" width="2" height="7" fill="#000"/>
<rect x="248" y="718" width="41" height="1" fill="#000"/>
<rect x="301" y="701" width="45" height="20" fill="#000"/>
<rect x="302" y="702" width="43" height="18" fill="#fff"/>
<rect x="302" y="704" width="43" height="3" fill="#000"/>
<rect x="304.00" y="705" width="4.83" height="1" fill="#fff"/>
<rect x="310.83" y="705" width="4.83" height="1" fill="#fff"/>
<rect x="317.67" y="705" width="4.83" height="1" fill="#fff"/>
<rect x="324.50" y="705" width="4.83" height="1" fill="#fff"/>
<rect x="331.33" y="705" width="4.83" height="1" fill="#fff"/>
<rect x="338.17" y="705" width="4.83" height="1" fill="#fff"/>
<rect x="302" y="709" width="43" height="3" fill="#000"/>
<rect x="302" y="712" width="2" height="7" fill="#000"/>
<rect x="302" y="713" width="1" height="5" fill="#fff"/>
<rect x="303.00" y="712" width="2" height="7" fill="#000"/>
<rect x="309.83" y="712" width="2" height="7" fill="#000"/>
<rect x="316.67" y="712" width="2" height="7" fill="#000"/>
<rect x="323.50" y="712" width="2" height="7" fill="#000"/>
<rect x="330.33" y="712" width="2" height="7" fill="#000"/>
<rect x="337.17" y="712" width="2" height="7" fill="#000"/>
<rect x="344.00" y="712" width="2" height="7" fill="#000"/>
<rect x="303" y="718" width="41" height="1" fill="#000"/>
<rect x="105" y="675" width="19" height="13" rx="1.5" ry="1.5" fill="#fff" stroke="#000" stroke-width="2"/>
<text x="107.50" y="685.00" font-size="11.43" font-weight="normal" fill="#000" textLength="11.00" lengthAdjust="spacingAndGlyphs">P1</text>
<rect x="112" y="688" width="4" height="4" fill="#000"/>
<rect x="112" y="692" width="4" height="5" fill="#000"/>
<rect x="113" y="697" width="2" height="4" fill="#000"/>
<rect x="184" y="675" width="18" height="13" rx="1.5" ry="1.5" fill="#fff" stroke="#000" stroke-width="2"/>
<text x="186.50" y="685.00" font-size="11.43" font-weight="normal" fill="#000" textLength="13.00" lengthAdjust="spacingAndGlyphs">P2</text>
<rect x="190" y="688" width="4" height="4" fill="#000"/>
<rect x="190" y="692" width="4" height="5" fill="#000"/>
<rect x="191" y="697" width="2" height="4" fill="#000"/>
<rect x="261" y="675" width="19" height="13" rx="1.5" ry="1.5" fill="#fff" stroke="#000" stroke-width="2"/>
<text x="261.65" y="685.35" font-size="10.14" font-weight="normal" fill="#000" textLength="14.40" lengthAdjust="spacingAndGlyphs">P3</text>
<rect x="268" y="688" width="4" height="4" fill="#000"/>
<rect x="268" y="692" width="4" height="5" fill="#000"/>
<rect x="269" y="697" width="2" height="4" fill="#000"/>
<rect x="320" y="675" width="18" height="13" rx="1.5" ry="1.5" fill="#fff" stroke="#000" stroke-width="2"/>
<text x="321.15" y="685.35" font-size="10.14" font-weight="normal" fill="#000" textLength="13.90" lengthAdjust="spacingAndGlyphs">P4</text>
<rect x="327" y="688" width="4" height="4" fill="#000"/>
<rect x="327" y="692" width="4" height="5" fill="#000"/>
<rect x="328" y="697" width="2" height="4" fill="#000"/>
<rect x="417" y="710" width="81" height="11" fill="#000"/>
<rect x="418" y="715" width="79" height="1" fill="#fff"/>
<rect x="419.50" y="711" width="1" height="9" fill="#fff"/>
<rect x="424.15" y="711" width="1" height="9" fill="#fff"/>
<rect x="428.80" y="711" width="1" height="9" fill="#fff"/>
<rect x="433.45" y="711" width="1" height="9" fill="#fff"/>
<rect x="438.10" y="711" width="1" height="9" fill="#fff"/>
<rect x="442.75" y="711" width="1" height="9" fill="#fff"/>
<rect x="447.40" y="711" width="1" height="9" fill="#fff"/>
<rect x="452.05" y="711" width="1" height="9" fill="#fff"/>
<rect x="456.70" y="711" width="1" height="9" fill="#fff"/>
<rect x="461.35" y="711" width="1" height="9" fill="#fff"/>
<rect x="466.00" y="711" width="1" height="9" fill="#fff"/>
<rect x="470.65" y="711" width="1" height="9" fill="#fff"/>
<rect x="475.30" y="711" width="1" height="9" fill="#fff"/>
<rect x="479.95" y="711" width="1" height="9" fill="#fff"/>
<rect x="484.60" y="711" width="1" height="9" fill="#fff"/>
<rect x="489.25" y="711" width="1" height="9" fill="#fff"/>
<rect x="493.90" y="711" width="1" height="9" fill="#fff"/>
<rect x="377" y="708" width="27" height="14" rx="1.5" ry="1.5" fill="#fff" stroke="#000" stroke-width="2"/>
<text x="379.50" y="719.00" font-size="11.43" font-weight="normal" fill="#000" textLength="21.00" lengthAdjust="spacingAndGlyphs">CN6</text>
<rect x="413" y="714" width="4" height="2" fill="#000"/>
<rect x="408" y="713" width="5" height="4" fill="#000"/>
<rect x="404" y="712" width="4" height="6" fill="#000"/>
<rect x="520" y="370" width="27" height="36" fill="#000"/>
<rect x="547" y="371" width="13" height="33" fill="#fff"/>
<rect x="547" y="370" width="14" height="1" fill="#000"/>
<rect x="547" y="404" width="14" height="1" fill="#000"/>
<rect x="560" y="370" width="1" height="35" fill="#000"/>
<rect x="560" y="370" width="14" height="35" fill="#000"/>
<rect x="561" y="371" width="12" height="33" fill="#fff"/>
<rect x="540" y="364" width="29" height="6" fill="#000"/>
<rect x="541" y="365" width="27" height="4" fill="#fff"/>
<rect x="542" y="362" width="5" height="10" fill="#000"/>
<rect x="555" y="362" width="6" height="10" fill="#000"/>
<rect x="540" y="407" width="29" height="6" fill="#000"/>
<rect x="541" y="408" width="27" height="4" fill="#fff"/>
<rect x="542" y="405" width="5" height="10" fill="#000"/>
<rect x="555" y="405" width="6" height="10" fill="#000"/>
<rect x="530" y="380" width="25" height="16" rx="2" fill="#000"/>
<rect x="530" y="382" width="23" height="12" fill="#fff"/>
<text x="530.50" y="392.00" font-size="11.43" font-weight="normal" fill="#000" textLength="19.40" lengthAdjust="spacingAndGlyphs">CN1</text>
<rect x="574" y="387" width="3" height="2" fill="#000"/>
<rect x="577" y="386" width="4" height="4" fill="#000"/>
<rect x="581" y="385" width="5" height="6" fill="#000"/>
<rect x="586" y="382" width="27" height="13" rx="1.5" ry="1.5" fill="#fff" stroke="#000" stroke-width="2"/>
<text x="588.50" y="391.00" font-size="10.78" font-weight="normal" fill="#000" textLength="21.00" lengthAdjust="spacingAndGlyphs">CN2</text>
<rect x="526" y="429" width="24" height="73" fill="#000"/>
<rect x="550" y="430" width="10" height="71" fill="#fff"/>
<rect x="550" y="429" width="11" height="1" fill="#000"/>
<rect x="550" y="501" width="11" height="1" fill="#000"/>
<rect x="560" y="429" width="2" height="73" fill="#000"/>
<rect x="562" y="405" width="2" height="162" fill="#000"/>
<rect x="542" y="422" width="15" height="5" fill="#000"/>
<rect x="543" y="423" width="13" height="3" fill="#fff"/>
<rect x="545" y="420" width="5" height="9" fill="#000"/>
<rect x="542" y="504" width="15" height="5" fill="#000"/>
<rect x="543" y="505" width="13" height="3" fill="#fff"/>
<rect x="545" y="502" width="5" height="9" fill="#000"/>
<rect x="561" y="449" width="14" height="34" fill="#000"/>
<rect x="562" y="450" width="12" height="32" fill="#fff"/>
<rect x="562" y="442" width="7" height="5" fill="#000"/>
<rect x="563" y="443" width="5" height="3" fill="#fff"/>
<rect x="562" y="485" width="7" height="5" fill="#000"/>
<rect x="563" y="486" width="5" height="3" fill="#fff"/>
<rect x="562" y="429" width="2" height="13" fill="#000"/>
<rect x="531" y="458" width="26" height="15" rx="2" fill="#000"/>
<rect x="532" y="460" width="23" height="11" fill="#fff"/>
<text x="533.50" y="469.00" font-size="11.43" font-weight="normal" fill="#000" textLength="21.40" lengthAdjust="spacingAndGlyphs">CN3</text>
<rect x="575" y="465" width="3" height="2" fill="#000"/>
<rect x="578" y="464" width="4" height="4" fill="#000"/>
<rect x="582" y="463" width="5" height="6" fill="#000"/>
<rect x="587" y="459" width="27" height="13" rx="1.5" ry="1.5" fill="#fff" stroke="#000" stroke-width="2"/>
<text x="588.50" y="470.00" font-size="11.43" font-weight="normal" fill="#000" textLength="21.00" lengthAdjust="spacingAndGlyphs">CN4</text>
<rect x="524" y="518" width="27" height="32" fill="#000"/>
<rect x="525" y="519" width="25" height="30" fill="#fff"/>
<rect x="550" y="518" width="14" height="32" fill="#000"/>
<rect x="557" y="514" width="7" height="41" fill="#000"/>
<rect x="560" y="512" width="4" height="2" fill="#000"/>
<rect x="525" y="527" width="26" height="16" rx="2" fill="#000"/>
<rect x="527" y="529" width="23" height="12" fill="#fff"/>
<text x="528.50" y="539.00" font-size="11.43" font-weight="normal" fill="#000" textLength="21.00" lengthAdjust="spacingAndGlyphs">CN5</text>
<rect x="57" y="83" width="5" height="1" fill="#fff"/>
<rect x="58" y="148" width="1" height="4" fill="#fff"/>
<rect x="39" y="300" width="4" height="1" fill="#fff"/>
<rect x="82" y="312" width="5" height="1" fill="#fff"/>
<rect x="111" y="355" width="5" height="1" fill="#fff"/>
<rect x="57" y="601" width="4" height="1" fill="#fff"/>
<rect x="154" y="602" width="5" height="1" fill="#fff"/>
<rect x="58" y="627" width="4" height="1" fill="#fff"/>
<rect x="113" y="687" width="1" height="4" fill="#fff"/>
<rect x="191" y="687" width="1" height="4" fill="#fff"/>
<rect x="269" y="687" width="1" height="4" fill="#fff"/>
<rect x="328" y="687" width="1" height="4" fill="#fff"/>
<rect x="403" y="715" width="4" height="1" fill="#fff"/>
<rect x="582" y="388" width="5" height="1" fill="#fff"/>
<rect x="583" y="466" width="5" height="1" fill="#fff"/>
</svg>
</body></html>
